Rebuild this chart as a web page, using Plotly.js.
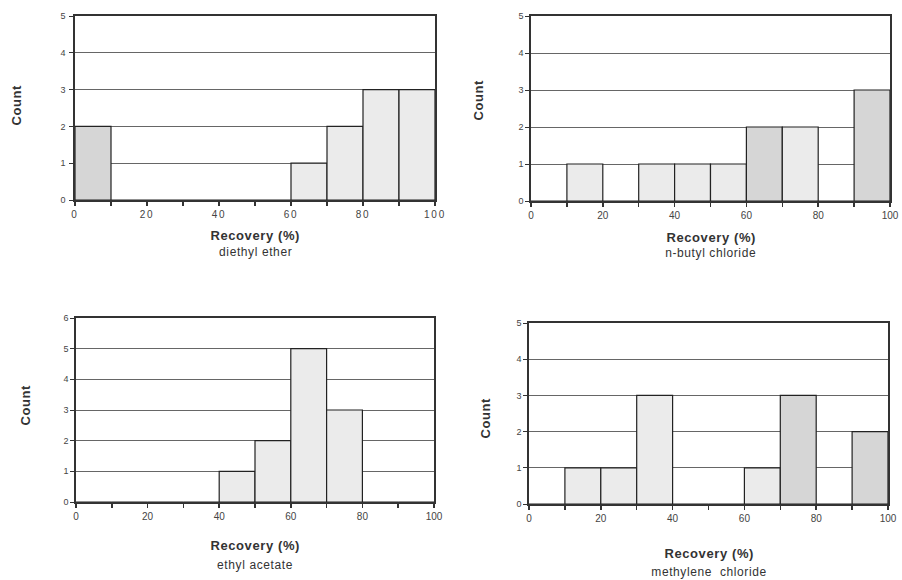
<!DOCTYPE html>
<html>
<head>
<meta charset="utf-8">
<script src="https://cdn.plot.ly/plotly-3.0.1.min.js"></script>
<style>
body{margin:0;background:#fff;}
#chart .xtick text, #chart .ytick text {letter-spacing:1.8px;}
#chart .annotation-text {letter-spacing:0.6px;}
</style>
</head>
<body>
<div id="chart" style="width:902px;height:580px;"></div>
<script>
// Bin centres of the 10%-wide recovery bins
const binCenters = [5, 15, 25, 35, 45, 55, 65, 75, 85, 95];
const xTickVals = [0, 10, 20, 30, 40, 50, 60, 70, 80, 90, 100];
const xTickText = ['0', '', '20', '', '40', '', '60', '', '80', '', '100'];

const solvents = ['diethyl ether', 'n-butyl chloride', 'ethyl acetate', 'methylene  chloride'];
const countsDiethylEther = [2, 0, 0, 0, 0, 0, 1, 2, 3, 3];
const countsButylChloride = [0, 1, 0, 1, 1, 1, 2, 2, 0, 3];
const countsEthylAcetate = [0, 0, 0, 0, 1, 2, 5, 3, 0, 0];
const countsMethyleneChloride = [0, 1, 1, 3, 0, 0, 1, 3, 0, 2];
const yMax = [5, 5, 6, 5];

// shading of each bar (scan shows two tones)
const light = '#ebebeb', dark = '#d6d6d6';
const shades = [
  [dark, light, light, light, light, light, light, light, light, light],
  [light, light, light, light, light, light, dark, light, light, dark],
  [light, light, light, light, light, light, light, light, light, light],
  [light, light, light, light, light, light, light, dark, light, dark]
];
const allCounts = [countsDiethylEther, countsButylChloride, countsEthylAcetate, countsMethyleneChloride];

const W = 902, H = 580;
// pixel boxes [x0, x1, yTop, yBottom]
const boxes = [
  [75, 435, 16, 200],
  [531, 890, 16, 201],
  [76, 434, 318, 502],
  [529, 888, 323, 504]
];

const traces = [];
const layout = {
  width: W, height: H,
  margin: {l: 0, r: 0, t: 0, b: 0},
  paper_bgcolor: '#fff', plot_bgcolor: '#fff',
  showlegend: false,
  font: {family: 'Liberation Sans, Arial, sans-serif', color: '#333'},
  annotations: []
};

const titlePos = [
  {rec: 236, sol: 252, count: [17, 105]},
  {rec: 237, sol: 253, count: [478, 100]},
  {rec: 545, sol: 565, count: [25, 405]},
  {rec: 553, sol: 572, count: [485, 418]}
];

allCounts.forEach((counts, i) => {
  const ax = i === 0 ? '' : String(i + 1);
  traces.push({
    type: 'bar',
    x: binCenters,
    y: counts,
    width: 10,
    xaxis: 'x' + ax,
    yaxis: 'y' + ax,
    marker: {color: shades[i], line: {color: '#222', width: 1.2}},
    hoverinfo: 'x+y'
  });
  const b = boxes[i];
  layout['xaxis' + ax] = {
    domain: [b[0] / W, b[1] / W],
    anchor: 'y' + ax,
    range: [0, 100],
    tickmode: 'array', tickvals: xTickVals, ticktext: xTickText,
    ticks: 'outside', ticklen: 4, tickwidth: 1.5, tickcolor: '#333',
    showgrid: false, zeroline: false,
    showline: true, linecolor: '#333', linewidth: 1.8, mirror: true,
    tickfont: {size: 10, color: '#444'}
  };
  layout['yaxis' + ax] = {
    domain: [1 - b[3] / H, 1 - b[2] / H],
    anchor: 'x' + ax,
    range: [0, yMax[i]],
    dtick: 1,
    ticks: 'outside', ticklen: 4, tickwidth: 1, tickcolor: '#333',
    showgrid: true, gridcolor: '#666', gridwidth: 1,
    zeroline: false,
    showline: true, linecolor: '#333', linewidth: 1.8, mirror: true,
    tickfont: {size: 9, color: '#444'}
  };
  const cx = (b[0] + b[1]) / 2 / W;
  const tp = titlePos[i];
  layout.annotations.push({
    xref: 'paper', yref: 'paper', x: cx, y: 1 - tp.rec / H,
    text: '<b>Recovery (%)</b>', showarrow: false,
    font: {size: 13, color: '#333'}, xanchor: 'center', yanchor: 'middle'
  });
  layout.annotations.push({
    xref: 'paper', yref: 'paper', x: cx, y: 1 - tp.sol / H,
    text: solvents[i], showarrow: false,
    font: {size: 12, color: '#333'}, xanchor: 'center', yanchor: 'middle'
  });
  layout.annotations.push({
    xref: 'paper', yref: 'paper', x: tp.count[0] / W, y: 1 - tp.count[1] / H,
    text: '<b>Count</b>', showarrow: false, textangle: -90,
    font: {size: 13, color: '#333'}, xanchor: 'center', yanchor: 'middle'
  });
});

Plotly.newPlot('chart', traces, layout, {displayModeBar: false, staticPlot: true});
</script>
</body>
</html>
